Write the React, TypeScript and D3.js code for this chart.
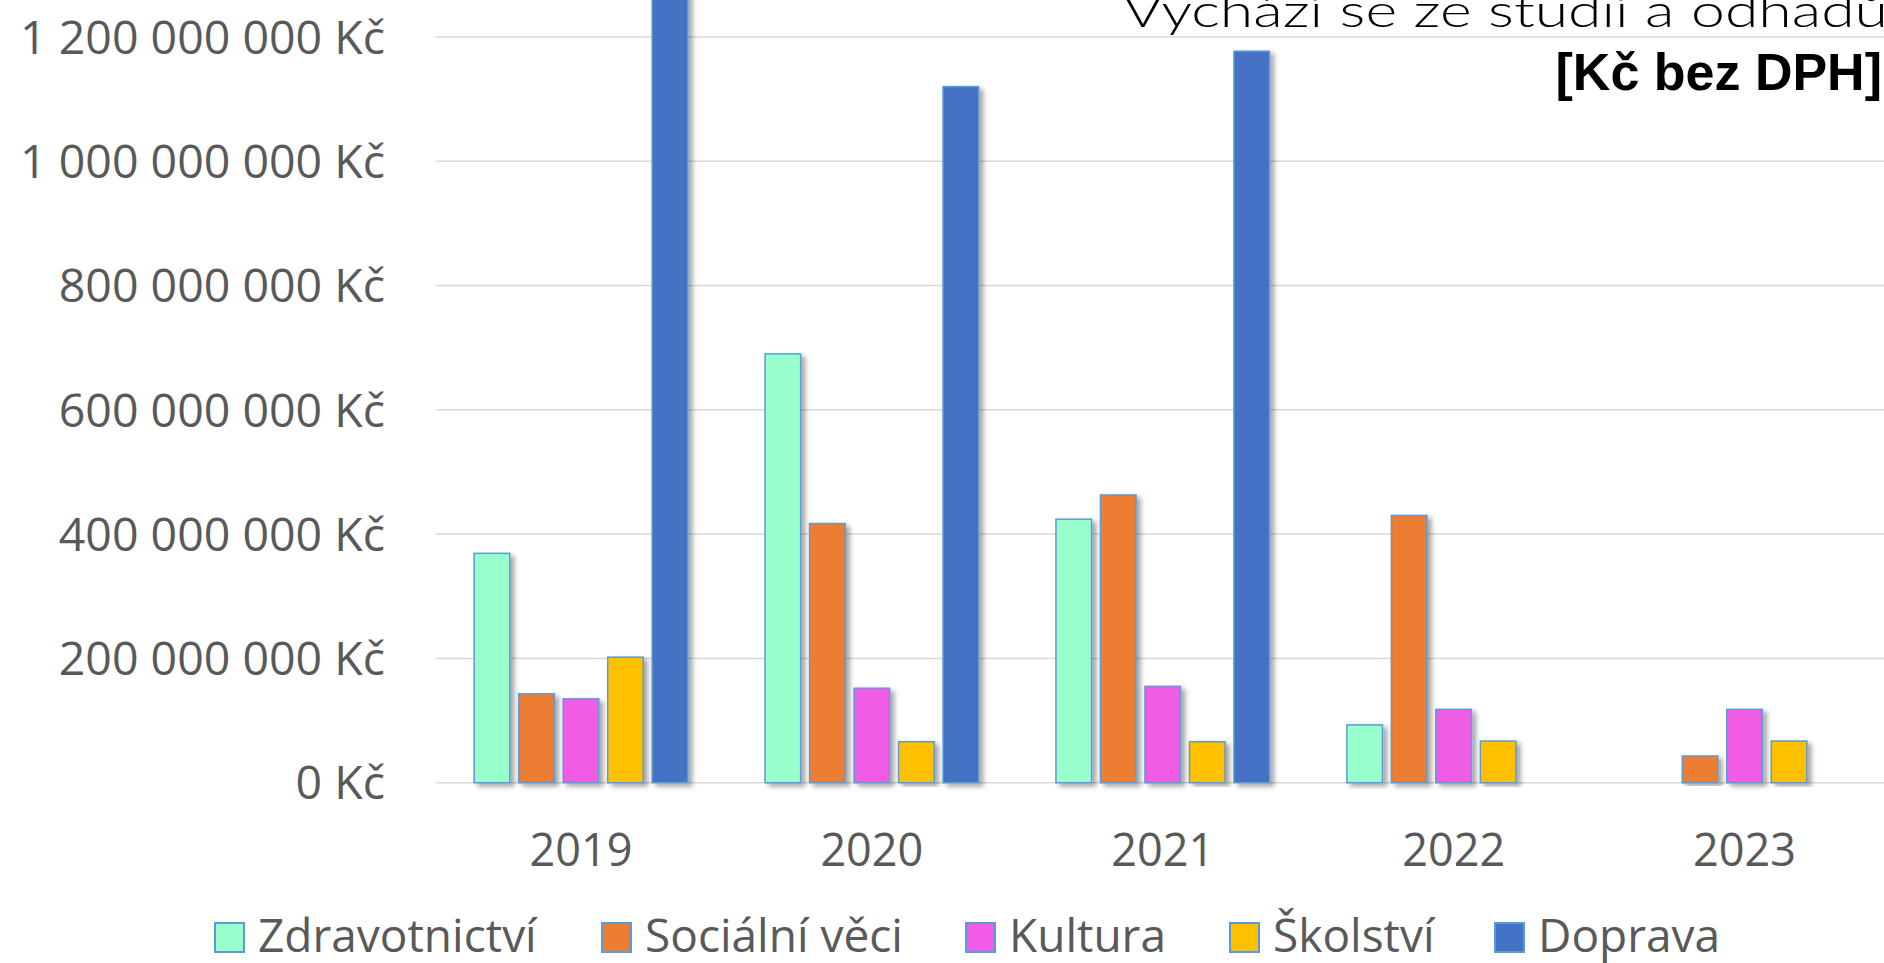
import React from 'react';
import * as d3 from 'd3';

const years = ['2019', '2020', '2021', '2022', '2023'];
const seriesNames = ['Zdravotnictví', 'Sociální věci', 'Kultura', 'Školství', 'Doprava'];
const seriesColors = ['#99FFCC', '#ED7D31', '#F15BE5', '#FFC000', '#4472C4'];

const zdravotnictvi = [369e6, 690e6, 424e6, 93e6, 0];
const socialniVeci = [143e6, 417e6, 463e6, 430e6, 43e6];
const kultura = [135e6, 152e6, 155e6, 118e6, 118e6];
const skolstvi = [202e6, 66e6, 66e6, 67e6, 67e6];
const doprava = [1290e6, 1120e6, 1177e6, 0, 0];

const yTicks = [0, 200e6, 400e6, 600e6, 800e6, 1000e6, 1200e6];

const seriesValues = [zdravotnictvi, socialniVeci, kultura, skolstvi, doprava];

const W = 1884;
const H = 963;
const FONT = '"Open Sans", sans-serif';
const TEXT = '#595959';

const App: React.FC = () => {
  const plotLeft = 435.5;
  const step = 290.9;

  const x0 = d3.scaleBand<string>()
    .domain(years)
    .range([plotLeft, plotLeft + step * years.length]);

  const bw = x0.bandwidth();
  const groupW = 213.6;
  const x1 = d3.scaleBand<string>()
    .domain(seriesNames)
    .range([(bw - groupW) / 2, (bw + groupW) / 2])
    .paddingInner(0.2);

  const y = d3.scaleLinear()
    .domain([0, 1200e6])
    .range([782.7, 36.9]);

  const fmt = (v: number) => d3.format(',')(v).replace(/,/g, ' ') + ' Kč';

  // legend swatch x positions
  const legendX = [215, 602, 966, 1230, 1495];

  return (
    <svg width={W} height={H} style={{ position: 'absolute', left: 0, top: 0, background: '#fff' }}>
      <defs>
        <filter id="shadow" x="-30%" y="-10%" width="160%" height="120%">
          <feDropShadow dx="4" dy="3" stdDeviation="2.5" floodColor="#000" floodOpacity="0.35" />
        </filter>
      </defs>

      {/* gridlines */}
      {yTicks.map(t => (
        <line key={t} x1={plotLeft} x2={W} y1={y(t)} y2={y(t)} stroke="#D9D9D9" strokeWidth={1.5} />
      ))}

      {/* y labels */}
      {yTicks.map(t => (
        <text key={'l' + t} x={385} y={y(t)} dy="0.36em" textAnchor="end"
          fontFamily={FONT} fontSize={46.5} fill={TEXT}>{fmt(t)}</text>
      ))}

      {/* bars */}
      {years.map((yr, i) => (
        <g key={yr} transform={`translate(${x0(yr)},0)`}>
          {seriesNames.map((s, j) => {
            const v = seriesValues[j][i];
            if (!v) return null;
            return (
              <rect key={s} x={x1(s)} y={y(v)} width={x1.bandwidth()} height={y(0) - y(v)}
                fill={seriesColors[j]} stroke="#5B9BD5" strokeWidth={1.5} filter="url(#shadow)" />
            );
          })}
        </g>
      ))}

      {/* x labels */}
      {years.map(yr => (
        <text key={'x' + yr} x={(x0(yr) as number) + bw / 2} y={866} textAnchor="middle"
          fontFamily={FONT} fontSize={45} fill={TEXT}>{yr}</text>
      ))}

      {/* legend */}
      {seriesNames.map((s, j) => (
        <g key={'lg' + s}>
          <rect x={legendX[j]} y={923} width={29} height={29} fill={seriesColors[j]} stroke="#5B9BD5" strokeWidth={2} />
          <text x={legendX[j] + 43} y={952} fontFamily={FONT} fontSize={46} fill={TEXT}>{s}</text>
        </g>
      ))}

      {/* note top right */}
      <text x={1123} y={27} fontFamily='Lato, sans-serif' fontWeight={300} fontSize={46}
        fill="#000" textLength={765} lengthAdjust="spacingAndGlyphs">Vychází se ze studií a odhadů</text>
      <text x={1882} y={90} textAnchor="end" fontFamily='"Liberation Sans", Arial, sans-serif'
        fontWeight="bold" fontSize={52} fill="#000">[Kč bez DPH]</text>
    </svg>
  );
};

export default App;
